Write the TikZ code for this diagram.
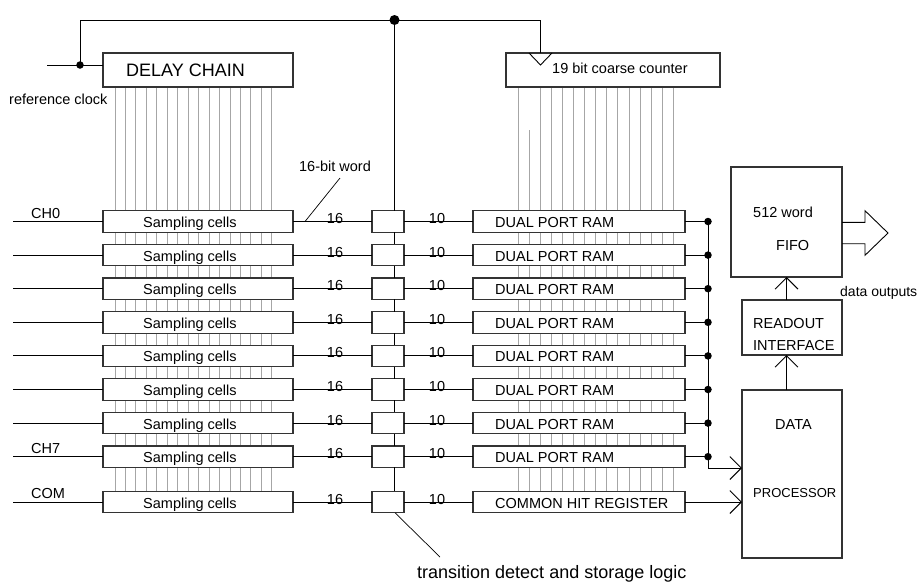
\documentclass[tikz,border=0pt]{standalone}
\usepackage{fontspec}
\setmainfont{Liberation Sans}
\usetikzlibrary{arrows.meta,calc}
\begin{document}
\begin{tikzpicture}[x=1pt,y=-1pt,
  box/.style={draw=black!80,line width=1.1pt,fill=white,inner sep=0pt,outer sep=0pt},
  wire/.style={draw=black,line width=0.9pt},
  comb/.style={draw=black!35,line width=0.9pt},
  dot/.style={circle,fill=black,inner sep=0pt,minimum size=7.5pt},
  arr/.style={wire,-{Straight Barb[length=11.5pt,width=23pt,line width=0.9pt]}},
  lbl/.style={font=\fontsize{14.5}{17}\selectfont,inner sep=0pt},
  biglbl/.style={font=\fontsize{18}{21}\selectfont,inner sep=0pt},
]
\useasboundingbox (0,0) rectangle (919,582);

% comb lines from delay chain
\foreach \k in {0,...,15}
  \draw[comb] ({115+10.45*\k},87) -- ({115+10.45*\k},491);
% comb lines from coarse counter
\foreach \k in {0,2,3,...,14}
  \draw[comb] ({518+11.1*\k},87) -- ({518+11.1*\k},491);
\draw[comb] ({518+11.1},130) -- ({518+11.1},491);

% top blocks
\node[box,minimum width=190pt,minimum height=34pt] (dc) at (198,70) {};
\node[biglbl,anchor=base west] at (126,76) {DELAY CHAIN};
\node[box,minimum width=214pt,minimum height=34pt] (cc) at (613,70) {};
\node[lbl,anchor=base west] at (552,73.3) {19 bit coarse counter};
\draw[wire] (529,53) -- (540.5,65) -- (552,53);
\coordinate (trig) at (540.5,53);

% clock distribution
\node[dot,minimum size=10pt] (tdot) at (394.5,20) {};
\node[dot] (cdot) at (80,65) {};
\coordinate (refin) at (47,65);
\draw[wire] (refin) -- (dc.west |- refin);
\draw[wire] (tdot.center) -| (cdot.center);
\draw[wire] (tdot.center) -| (trig);
\node[lbl,anchor=base west] at (9,104.5) {reference clock};

% channel rows
\foreach \i in {0,...,7} {
  \pgfmathsetmacro{\ym}{221.5+33.6*\i}
  \node[box,minimum width=190pt,minimum height=21.5pt] (s\i) at (198,\ym) {};
  \node[box,minimum width=32pt,minimum height=21.5pt] (t\i) at (388,\ym) {};
  \node[box,minimum width=212pt,minimum height=21.5pt] (d\i) at (579,\ym) {};
  \node[dot] (b\i) at (708,\ym) {};
  \coordinate (in\i) at (13,\ym);
  \draw[wire] (in\i) -- (s\i.west);
  \draw[wire] (s\i.east) -- (t\i.west);
  \draw[wire] (t\i.east) -- (d\i.west);
  \draw[wire] (d\i.east) -- (b\i.center);
  \node[lbl,anchor=base west] at (143,\ym+6) {Sampling cells};
  \node[lbl,anchor=base west] at (495,\ym+6) {DUAL PORT RAM};
  \node[lbl,anchor=base] at (335,\ym+2) {16};
  \node[lbl,anchor=base] at (437,\ym+2) {10};
}
% common row
\node[box,minimum width=190pt,minimum height=21.5pt] (sc) at (198,502) {};
\node[box,minimum width=32pt,minimum height=21.5pt] (tc) at (388,502) {};
\node[box,minimum width=212pt,minimum height=21.5pt] (ch) at (579,502) {};
\coordinate (inc) at (13,502);
\draw[wire] (inc) -- (sc.west);
\draw[wire] (sc.east) -- (tc.west);
\draw[wire] (tc.east) -- (ch.west);
\node[lbl,anchor=base west] at (143,508) {Sampling cells};
\node[lbl,anchor=base west] at (495,508) {COMMON HIT REGISTER};
\node[lbl,anchor=base] at (335,504) {16};
\node[lbl,anchor=base] at (437,504) {10};

\node[lbl,anchor=base west] at (31,218.5) {CH0};
\node[lbl,anchor=base west] at (31,453) {CH7};
\node[lbl,anchor=base west] at (31,498) {COM};

% vertical trunk through transition-detect blocks
\draw[wire] (tdot.center) -- (tdot.center |- t0.north);
\foreach \i/\j in {0/1,1/2,2/3,3/4,4/5,5/6,6/7,7/c}
  \draw[wire] ($(t\i.south)+(6.5,0)$) -- ($(t\j.north)+(6.5,0)$);

% right-hand blocks
\node[box,minimum width=111pt,minimum height=110pt] (fifo) at (786.5,222) {};
\node[box,minimum width=100pt,minimum height=55pt] (ro) at (792,327.5) {};
\node[box,minimum width=100pt,minimum height=168pt] (dp) at (792,474) {};
\node[lbl,anchor=base west] at (753,217) {512 word};
\node[lbl,anchor=base west] at (776,250) {FIFO};
\node[lbl,anchor=base west] at (753,328) {READOUT};
\node[lbl,anchor=base west] at (753,350.5) {INTERFACE};
\node[lbl,anchor=base west] at (775,429) {DATA};
\node[lbl,font=\fontsize{13}{15}\selectfont,anchor=base west] at (753,497) {PROCESSOR};

% bus to data processor
\coordinate (busend) at (708,468);
\draw[wire] (b0.center) -- (busend);
\draw[arr] (busend) -- (busend -| dp.west);
\draw[arr] (ch.east) -- (ch.east -| dp.west);
\draw[arr] (fifo.south |- dp.north) -- (fifo.south |- ro.south);
\draw[arr] (fifo.south |- ro.north) -- (fifo.south);

% output arrow
\draw[wire] (fifo.east |- 0,222.3) -- (865,222.3) -- (865,210.7) -- (888,233)
  -- (865,255.3) -- (865,243.7) -- (fifo.east |- 0,243.7);
\node[lbl,font=\fontsize{14}{16}\selectfont,anchor=base west] at (840,296) {data outputs};

% annotations
\node[lbl] (bw) at (335,166) {16-bit word};
\coordinate (bwp) at (340,178);
\draw[wire,line width=0.7pt] ($(s0.east)+(12,0)$) -- (bwp);
\coordinate (tdp) at (440,557);
\draw[wire,line width=0.7pt] ($(tc.south)+(7,0)$) -- (tdp);
\node[biglbl,anchor=base west] at (417,578) {transition detect and storage logic};
\end{tikzpicture}
\end{document}
